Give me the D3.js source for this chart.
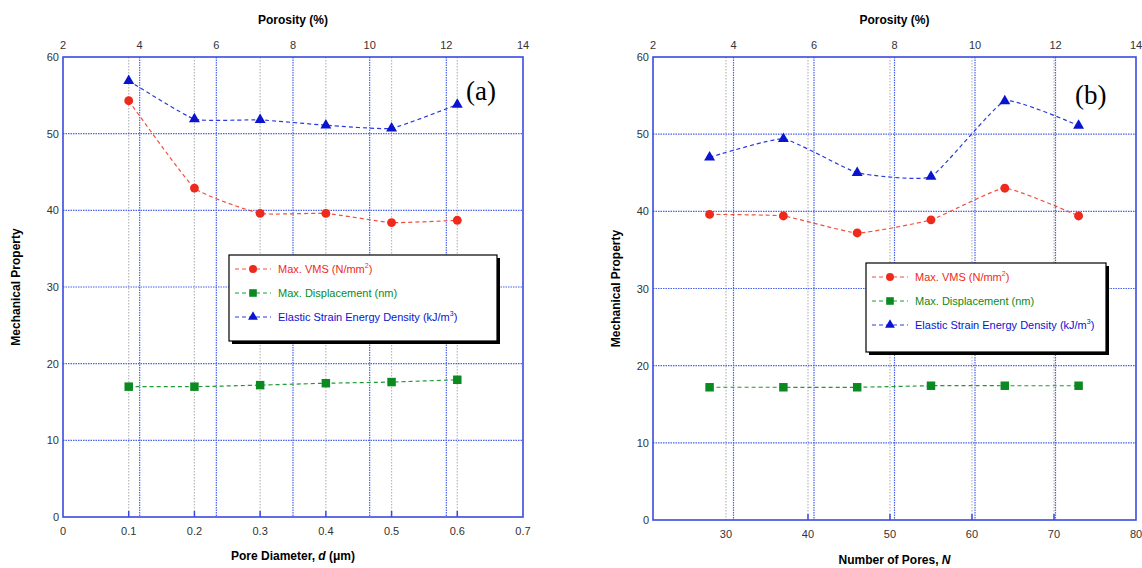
<!DOCTYPE html>
<html>
<head>
<meta charset="utf-8">
<script src="https://cdn.jsdelivr.net/npm/d3@7"></script>
<style>
  html, body { margin: 0; padding: 0; background: #fff; }
  svg { display: block; font-family: "Liberation Sans", Arial, sans-serif; }
</style>
</head>
<body>
<svg id="chart" width="1142" height="568"></svg>
<script>
// panel (a) data
var poreDiameter = [0.1, 0.2, 0.3, 0.4, 0.5, 0.6];
var vmsA = [54.3, 42.9, 39.6, 39.6, 38.4, 38.7];
var dispA = [17.0, 17.0, 17.2, 17.45, 17.6, 17.9];
var energyA = [56.9, 51.9, 51.8, 51.1, 50.7, 53.8];

// panel (b) data
var numPores = [28, 37, 46, 55, 64, 73];
var vmsB = [39.6, 39.4, 37.2, 38.9, 43.0, 39.4];
var dispB = [17.2, 17.2, 17.2, 17.4, 17.4, 17.4];
var energyB = [47.0, 49.4, 45.0, 44.5, 54.3, 51.1];

// axes
var yTicks = [0, 10, 20, 30, 40, 50, 60];
var porosityTicks = [2, 4, 6, 8, 10, 12, 14];
var diameterTicks = [0, 0.1, 0.2, 0.3, 0.4, 0.5, 0.6, 0.7];
var poresTicks = [30, 40, 50, 60, 70, 80];

var seriesNames = ["Max. VMS (N/mm", "Max. Displacement (nm)", "Elastic Strain Energy Density (kJ/m"];
var seriesSup = ["2", "", "3"];

var colors = {
  vms: "#ee2a1c", vmsLine: "#f0503f",
  disp: "#0a8a20", dispLine: "#1f9a35",
  energy: "#0a14d0", energyLine: "#2a3ae0",
  frame: "#3a4ae0", grid: "#4a62f0", grey: "#b8b8b8"
};

var svg = d3.select("#chart");

function drawPanel(cfg) {
  var g = svg.append("g");
  var x = d3.scaleLinear().domain(cfg.xDomain).range([cfg.left, cfg.right]);
  var xTop = d3.scaleLinear().domain([2, 14]).range([cfg.left, cfg.right]);
  var y = d3.scaleLinear().domain([0, 60]).range([cfg.bottom, cfg.top]);

  // grey dotted grid at bottom ticks
  g.selectAll(".gx").data(cfg.xGrid).enter().append("line")
    .attr("x1", d => x(d)).attr("x2", d => x(d))
    .attr("y1", cfg.top).attr("y2", cfg.bottom)
    .attr("stroke", colors.grey).attr("stroke-width", 1.2)
    .attr("stroke-dasharray", "1.5,1.5");

  // blue dotted grid at porosity ticks
  g.selectAll(".gp").data(porosityTicks.slice(1, -1)).enter().append("line")
    .attr("x1", d => xTop(d)).attr("x2", d => xTop(d))
    .attr("y1", cfg.top).attr("y2", cfg.bottom)
    .attr("stroke", colors.grid).attr("stroke-width", 1.2)
    .attr("stroke-dasharray", "1.5,1");

  // horizontal grid
  g.selectAll(".gy").data(yTicks.slice(1, -1)).enter().append("line")
    .attr("x1", cfg.left).attr("x2", cfg.right)
    .attr("y1", d => y(d)).attr("y2", d => y(d))
    .attr("stroke", colors.grid).attr("stroke-width", 1.2)
    .attr("stroke-dasharray", "1.5,1");

  // inner tick marks on bottom axis
  g.selectAll(".tb").data(cfg.xTicks.slice(1, -1)).enter().append("line")
    .attr("x1", d => x(d)).attr("x2", d => x(d))
    .attr("y1", cfg.bottom).attr("y2", cfg.bottom - 6)
    .attr("stroke", colors.frame).attr("stroke-width", 1.5);

  // frame
  g.append("rect")
    .attr("x", cfg.left).attr("y", cfg.top)
    .attr("width", cfg.right - cfg.left).attr("height", cfg.bottom - cfg.top)
    .attr("fill", "none").attr("stroke", colors.frame).attr("stroke-width", 1.6);

  // tick labels
  var fmtX = cfg.xFormat;
  g.selectAll(".lx").data(cfg.xTicks).enter().append("text")
    .attr("x", d => x(d)).attr("y", cfg.bottom + 18)
    .attr("text-anchor", "middle").attr("font-size", 11).attr("fill", "#333")
    .text(d => fmtX(d));
  g.selectAll(".lt").data(porosityTicks).enter().append("text")
    .attr("x", d => xTop(d)).attr("y", cfg.top - 8)
    .attr("text-anchor", "middle").attr("font-size", 11).attr("fill", "#333")
    .text(d => d);
  g.selectAll(".ly").data(yTicks).enter().append("text")
    .attr("x", cfg.left - 4).attr("y", d => y(d) + 4)
    .attr("text-anchor", "end").attr("font-size", 11).attr("fill", "#333")
    .text(d => d);

  // axis titles
  g.append("text").attr("x", (cfg.left + cfg.right) / 2).attr("y", 24)
    .attr("text-anchor", "middle").attr("font-size", 12).attr("font-weight", "bold")
    .text("Porosity (%)");
  g.append("text")
    .attr("transform", "translate(" + cfg.yTitleX + "," + ((cfg.top + cfg.bottom) / 2) + ") rotate(-90)")
    .attr("text-anchor", "middle").attr("font-size", 12).attr("font-weight", "bold")
    .text("Mechanical Property");
  var xt = g.append("text").attr("x", (cfg.left + cfg.right) / 2).attr("y", cfg.xTitleY)
    .attr("text-anchor", "middle").attr("font-size", 12).attr("font-weight", "bold");
  cfg.xTitle.forEach(function(p) {
    xt.append("tspan").attr("font-style", p[1] ? "italic" : null).text(p[0]);
  });

  // panel letter
  g.append("text").attr("x", cfg.letterX).attr("y", cfg.letterY)
    .attr("font-family", "'Liberation Serif', 'DejaVu Serif', serif").attr("font-size", 27)
    .text(cfg.letter);

  var line = d3.line().x(d => x(d[0])).y(d => y(d[1])).curve(d3.curveCardinal.tension(0.6));
  var series = [
    { vals: cfg.vms, c: colors.vms, lc: colors.vmsLine, shape: "circle" },
    { vals: cfg.disp, c: colors.disp, lc: colors.dispLine, shape: "square" },
    { vals: cfg.energy, c: colors.energy, lc: colors.energyLine, shape: "triangle" }
  ];
  series.forEach(function(s) {
    var pts = cfg.xs.map((v, i) => [v, s.vals[i]]);
    g.append("path").datum(pts).attr("d", line)
      .attr("fill", "none").attr("stroke", s.lc).attr("stroke-width", 1.2)
      .attr("stroke-dasharray", "4,3");
    g.selectAll(null).data(pts).enter().append("path")
      .attr("transform", d => "translate(" + x(d[0]) + "," + y(d[1]) + ")")
      .attr("d", marker(s.shape))
      .attr("fill", s.c);
  });

  // legend
  var L = cfg.legend;
  g.append("rect").attr("x", L.x + 3).attr("y", L.y + 3).attr("width", L.w).attr("height", L.h).attr("fill", "#000");
  g.append("rect").attr("x", L.x).attr("y", L.y).attr("width", L.w).attr("height", L.h)
    .attr("fill", "#fff").attr("stroke", "#000").attr("stroke-width", 1.2);
  series.forEach(function(s, i) {
    var ly = L.y + 14 + i * 24;
    g.append("line").attr("x1", L.x + 6).attr("x2", L.x + 42).attr("y1", ly).attr("y2", ly)
      .attr("stroke", s.lc).attr("stroke-width", 1.2).attr("stroke-dasharray", "4,3");
    g.append("path").attr("transform", "translate(" + (L.x + 24) + "," + ly + ")")
      .attr("d", marker(s.shape, 0.8)).attr("fill", s.c);
    var t = g.append("text").attr("x", L.x + 49).attr("y", ly + 4)
      .attr("font-size", 11).attr("fill", s.c);
    t.append("tspan").text(seriesNames[i]);
    if (seriesSup[i]) {
      t.append("tspan").attr("dy", -5).attr("font-size", 7).text(seriesSup[i]);
      t.append("tspan").attr("dy", 5).text(")");
    }
  });
}

function marker(shape, k) {
  k = k || 1;
  if (shape === "circle") return d3.symbol(d3.symbolCircle, 62 * k)();
  if (shape === "square") return d3.symbol(d3.symbolSquare, 72 * k)();
  return d3.symbol(d3.symbolTriangle, 52 * k)();
}

drawPanel({
  left: 63, right: 523, top: 57, bottom: 517,
  xDomain: [0, 0.7], xTicks: diameterTicks, xGrid: poreDiameter,
  xFormat: d => d === 0 ? "0" : d3.format(".1f")(d),
  xs: poreDiameter, vms: vmsA, disp: dispA, energy: energyA,
  yTitleX: 20, xTitleY: 560,
  xTitle: [["Pore Diameter, ", false], ["d", true], [" (\u03bcm)", false]],
  letter: "(a)", letterX: 466, letterY: 100,
  legend: { x: 229, y: 255, w: 268, h: 86 }
});

drawPanel({
  left: 653, right: 1136, top: 57, bottom: 520,
  xDomain: [21.1, 80], xTicks: poresTicks, xGrid: poresTicks.slice(0, -1),
  xFormat: d => d,
  xs: numPores, vms: vmsB, disp: dispB, energy: energyB,
  yTitleX: 620, xTitleY: 564,
  xTitle: [["Number of Pores, ", false], ["N", true]],
  letter: "(b)", letterX: 1075, letterY: 104,
  legend: { x: 866, y: 263, w: 240, h: 89 }
});
</script>
</body>
</html>
